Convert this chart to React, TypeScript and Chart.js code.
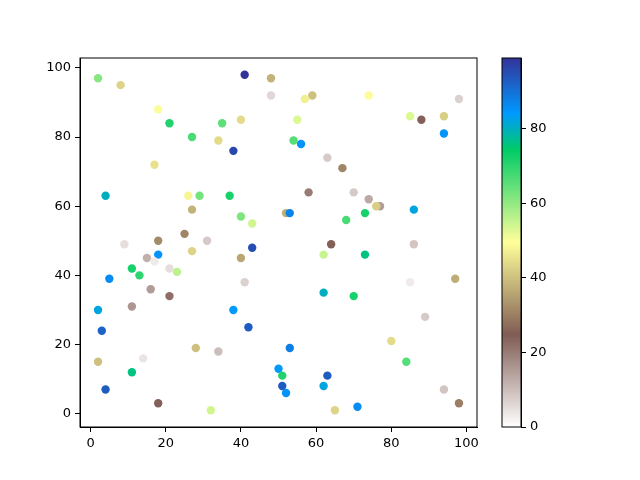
import React, { useEffect, useRef } from "react";
import { Chart, registerables } from "chart.js";

Chart.register(...registerables);

const xs = [2, 8, 41, 48, 48, 59, 57, 74, 98, 18, 21, 35, 40, 55, 85, 88, 94, 27, 34, 54, 56, 94, 38, 17, 63, 67, 4, 26, 29, 37, 58, 70, 90, 74, 77, 76, 27, 52, 53, 73, 86, 40, 68, 43, 25, 18, 31, 9, 43, 64, 86, 18, 27, 62, 73, 15, 17, 40, 11, 21, 23, 13, 5, 41, 85, 97, 16, 21, 62, 70, 11, 2, 38, 89, 3, 42, 80, 28, 53, 34, 2, 14, 84, 50, 11, 51, 63, 51, 62, 4, 94, 52, 18, 98, 71, 32, 65];
const ys = [97, 95, 98, 97, 92, 92, 91, 92, 91, 88, 84, 84, 85, 85, 86, 85, 86, 80, 79, 79, 78, 81, 76, 72, 74, 71, 63, 63, 63, 63, 64, 64, 63, 62, 60, 60, 59, 58, 58, 58, 59, 57, 56, 55, 52, 50, 50, 49, 48, 49, 49, 46, 47, 46, 46, 45, 44, 45, 42, 42, 41, 40, 39, 38, 38, 39, 36, 34, 35, 34, 31, 30, 30, 28, 24, 25, 21, 19, 19, 18, 15, 16, 15, 13, 12, 11, 11, 8, 8, 7, 7, 6, 3, 3, 2, 1, 1];
const cs = [61, 43, 99, 38, 6, 40, 47, 49, 7, 50, 71, 65, 44, 53, 53, 24, 42, 67, 44, 66, 85, 85, 96, 45, 8, 31, 80, 48, 63, 72, 20, 8, 0, 13, 15, 42, 38, 37, 87, 72, 82, 62, 67, 54, 31, 32, 8, 5, 95, 24, 9, 85, 43, 55, 76, 12, 3, 36, 72, 5, 56, 70, 86, 7, 3, 37, 15, 22, 80, 72, 16, 82, 84, 8, 92, 93, 44, 40, 88, 10, 40, 4, 66, 84, 76, 71, 93, 93, 82, 93, 9, 85, 24, 30, 86, 54, 43];

const axisTicks = [0, 20, 40, 60, 80, 100];
const cbarTicks = [0, 20, 40, 60, 80];

const cmapStops: [number, number[]][] = [
  [0, [1, 1, 1]],
  [0.25, [0.5, 0.36, 0.33]],
  [0.5, [1, 1, 0.6]],
  [0.75, [0, 0.8, 0.4]],
  [0.85, [0, 0.6, 1]],
  [1, [0.2, 0.2, 0.6]],
];

function cmap(t: number): string {
  t = Math.max(0, Math.min(1, t));
  for (let i = 0; i < cmapStops.length - 1; i++) {
    const [t0, c0] = cmapStops[i];
    const [t1, c1] = cmapStops[i + 1];
    if (t <= t1) {
      const f = (t - t0) / (t1 - t0);
      const c = c0.map((v, k) => Math.round((v + (c1[k] - v) * f) * 255));
      return `rgb(${c[0]},${c[1]},${c[2]})`;
    }
  }
  const c = cmapStops[cmapStops.length - 1][1].map((v) => Math.round(v * 255));
  return `rgb(${c[0]},${c[1]},${c[2]})`;
}

const FONT = { family: "DejaVu Sans", size: 13 };

const framePlugin = {
  id: "frame",
  afterDraw(chart: any) {
    const { ctx, chartArea } = chart;
    ctx.save();
    ctx.strokeStyle = "#000";
    ctx.lineWidth = 1;
    ctx.strokeRect(chartArea.left, chartArea.top, chartArea.right - chartArea.left, chartArea.bottom - chartArea.top);
    ctx.restore();
  },
};

export default function App() {
  const mainRef = useRef<HTMLCanvasElement>(null);
  const cbarRef = useRef<HTMLCanvasElement>(null);

  useEffect(() => {
    const vmin = Math.min(...cs);
    const vmax = Math.max(...cs);
    const xmin = Math.min(...xs), xmax = Math.max(...xs);
    const ymin = Math.min(...ys), ymax = Math.max(...ys);
    const xm = (xmax - xmin) * 0.05, ym = (ymax - ymin) * 0.05;
    const colors = cs.map((c) => cmap((c - vmin) / (vmax - vmin)));

    const tickCfg = {
      color: "#000",
      font: FONT,
      padding: 4,
      maxRotation: 0,
      autoSkip: false,
    };
    const gridCfg = { drawOnChartArea: false, drawTicks: true, tickLength: 5, color: "#000", lineWidth: 1 };

    const main = new Chart(mainRef.current!, {
      type: "scatter",
      data: {
        datasets: [
          {
            data: xs.map((x, i) => ({ x, y: ys[i] })),
            backgroundColor: colors,
            borderWidth: 0,
            pointRadius: 4.2,
          },
        ],
      },
      options: {
        animation: false,
        responsive: false,
        layout: { padding: { left: 0, top: 58, right: 163, bottom: 0 } },
        plugins: { legend: { display: false }, tooltip: { enabled: false } },
        scales: {
          x: {
            type: "linear",
            min: xmin - xm,
            max: xmax + xm,
            afterBuildTicks: (s: any) => {
              s.ticks = axisTicks.map((v) => ({ value: v }));
            },
            afterFit: (s: any) => {
              s.height = 53;
            },
            grid: gridCfg,
            border: { display: true, color: "#000", width: 1 },
            ticks: tickCfg,
          },
          y: {
            type: "linear",
            min: ymin - ym,
            max: ymax + ym,
            afterBuildTicks: (s: any) => {
              s.ticks = axisTicks.map((v) => ({ value: v }));
            },
            afterFit: (s: any) => {
              s.width = 80;
            },
            grid: gridCfg,
            border: { display: true, color: "#000", width: 1 },
            ticks: tickCfg,
          },
        },
      } as any,
      plugins: [framePlugin],
    });

    const gradientPlugin = {
      id: "cbarGradient",
      beforeDatasetsDraw(chart: any) {
        const { ctx, chartArea } = chart;
        const g = ctx.createLinearGradient(0, chartArea.bottom, 0, chartArea.top);
        cmapStops.forEach(([t]) => g.addColorStop(t, cmap(t)));
        ctx.save();
        ctx.fillStyle = g;
        ctx.fillRect(chartArea.left, chartArea.top, chartArea.right - chartArea.left, chartArea.bottom - chartArea.top);
        ctx.restore();
      },
    };

    const cbar = new Chart(cbarRef.current!, {
      type: "scatter",
      data: { datasets: [] },
      options: {
        animation: false,
        responsive: false,
        layout: { padding: { left: 22, top: 58, right: 0, bottom: 53 } },
        plugins: { legend: { display: false }, tooltip: { enabled: false } },
        scales: {
          x: { type: "linear", display: false, min: 0, max: 1 },
          y: {
            type: "linear",
            position: "right",
            min: vmin,
            max: vmax,
            afterBuildTicks: (s: any) => {
              s.ticks = cbarTicks.map((v) => ({ value: v }));
            },
            afterFit: (s: any) => {
              s.width = 119;
            },
            grid: gridCfg,
            border: { display: true, color: "#000", width: 1 },
            ticks: tickCfg,
          },
        },
      } as any,
      plugins: [gradientPlugin, framePlugin],
    });

    return () => {
      main.destroy();
      cbar.destroy();
    };
  }, []);

  return (
    <div style={{ position: "absolute", left: 0, top: 0, width: 640, height: 480, background: "#fff" }}>
      <canvas ref={mainRef} width={640} height={480} style={{ position: "absolute", left: 0, top: 0 }} />
      <canvas ref={cbarRef} width={160} height={480} style={{ position: "absolute", left: 480, top: 0 }} />
    </div>
  );
}
